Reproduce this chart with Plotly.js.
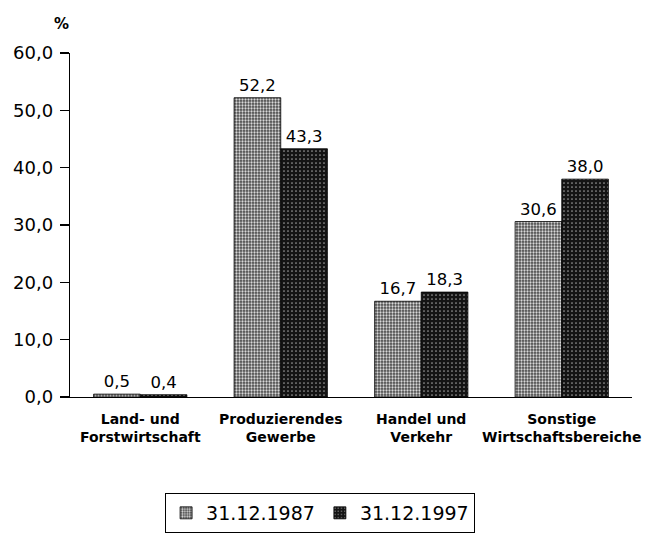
<!DOCTYPE html>
<html>
<head>
<meta charset="utf-8">
<script src="https://cdn.plot.ly/plotly-3.0.1.min.js"></script>
<style>html,body{margin:0;padding:0;background:#fff;}#chart{width:655px;height:540px;}</style>
</head>
<body>
<div id="chart"></div>
<script>
var categories = ["Land- und<br>Forstwirtschaft", "Produzierendes<br>Gewerbe", "Handel und<br>Verkehr", "Sonstige<br>Wirtschaftsbereiche"];
var series1987 = [0.5, 52.2, 16.7, 30.6];
var series1997 = [0.4, 43.3, 18.3, 38.0];
var seriesNames = ["31.12.1987", "31.12.1997"];
var yTicks = [0, 10, 20, 30, 40, 50, 60];

var FONT = "DejaVu Sans";

var traces = [
  {
    type: "bar", x: categories, y: series1987, name: seriesNames[0],
    marker: {
      color: "#8c8c8c",
      line: {color: "#000", width: 0.8},
      pattern: {shape: ".", bgcolor: "#4a4a4a", fgcolor: "#d8d8d8", size: 3, solidity: 0.45}
    },
    texttemplate: "%{y:.1f}", textposition: "outside", cliponaxis: false,
    textfont: {family: FONT, size: 16.5, color: "#000"}
  },
  {
    type: "bar", x: categories, y: series1997, name: seriesNames[1],
    marker: {
      color: "#1c1c1c",
      line: {color: "#000", width: 0.8},
      pattern: {shape: ".", bgcolor: "#141414", fgcolor: "#9a9a9a", size: 4, solidity: 0.15}
    },
    texttemplate: "%{y:.1f}", textposition: "outside", cliponaxis: false,
    textfont: {family: FONT, size: 16.5, color: "#000"}
  }
];

var layout = {
  width: 655, height: 540,
  margin: {l: 70, r: 23, t: 53, b: 143, autoexpand: false},
  paper_bgcolor: "#fff", plot_bgcolor: "#fff",
  separators: ", ",
  barmode: "group", bargap: 0.336, bargroupgap: 0,
  font: {family: FONT, color: "#000"},
  showlegend: true,
  legend: {
    orientation: "h", x: 0.445, xanchor: "center", y: -0.279, yanchor: "top",
    bordercolor: "#000", borderwidth: 1, font: {family: FONT, size: 19, color: "#000"},
    traceorder: "normal"
  },
  xaxis: {
    type: "category", showline: true, linecolor: "#000", linewidth: 1.2,
    ticks: "", showgrid: false, zeroline: false, ticklabelstandoff: 9, automargin: false,
    tickfont: {family: FONT, size: 14, weight: "bold", color: "#000"}
  },
  yaxis: {
    range: [0, 60], tickvals: yTicks, tickformat: ".1f",
    showline: true, linecolor: "#000", linewidth: 1.2,
    ticks: "outside", ticklen: 9, tickwidth: 1.2, tickcolor: "#000",
    showgrid: false, zeroline: false, ticklabelstandoff: 3, automargin: false,
    tickfont: {family: FONT, size: 18, color: "#000"}
  },
  annotations: [
    {text: "%", xref: "paper", yref: "paper", x: 0, y: 1.084, xshift: -9,
     xanchor: "center", yanchor: "middle", showarrow: false,
     font: {family: FONT, size: 15, weight: "bold", color: "#000"}}
  ]
};

Plotly.newPlot("chart", traces, layout, {staticPlot: true, displayModeBar: false});
</script>
</body>
</html>
